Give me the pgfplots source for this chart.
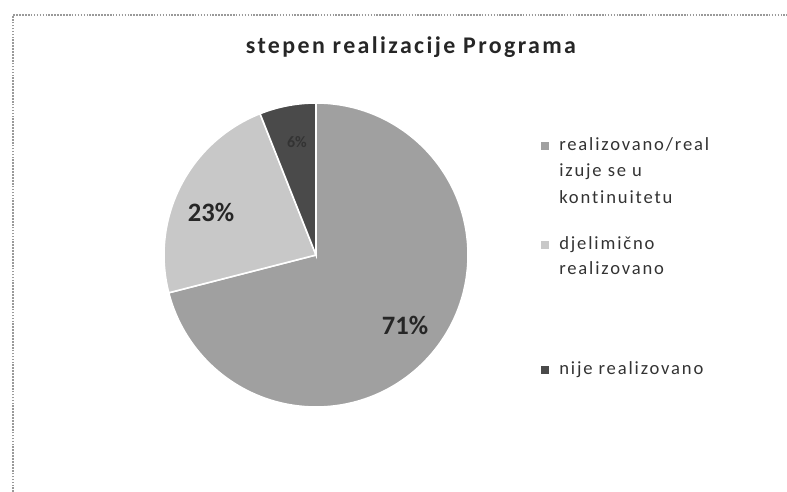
\documentclass[border=0pt]{standalone}
\usepackage{fontspec}
\setmainfont{Carlito}
\usepackage{pgfplots}
\usepackage{pgfplotstable}
\pgfplotsset{compat=1.18}

\definecolor{sliceA}{HTML}{A0A0A0}
\definecolor{sliceB}{HTML}{C8C8C8}
\definecolor{sliceC}{HTML}{4A4A4A}
\definecolor{framegray}{HTML}{9A9A9A}

\pgfplotstableread{
idx value
0 71
1 23
2 6
}\piedata

\newfontfamily\legfont[LetterSpace=10, Ligatures={NoCommon}]{Carlito}
\newfontfamily\titfont[LetterSpace=10, Ligatures={NoCommon}]{Carlito Bold}

\begin{document}
\begin{tikzpicture}
\pgfplotstablegetelem{0}{value}\of\piedata \pgfmathsetmacro\va{\pgfplotsretval}
\pgfplotstablegetelem{1}{value}\of\piedata \pgfmathsetmacro\vb{\pgfplotsretval}
\pgfplotstablegetelem{2}{value}\of\piedata \pgfmathsetmacro\vc{\pgfplotsretval}
\pgfmathsetmacro\aA{90}
\pgfmathsetmacro\aB{\aA-3.6*\va}
\pgfmathsetmacro\aC{\aB-3.6*\vb}
\pgfmathsetmacro\aD{\aC-3.6*\vc}
\begin{axis}[
  width=590.25bp, height=369bp, scale only axis,
  xmin=0, xmax=787, ymin=0, ymax=492,
  hide axis, clip=false,
]
% pie slices (clockwise from 12 o'clock)
\fill[sliceA, draw=white, line width=1.2bp] (axis cs:316,237) -- ++(\aA:114bp) arc[start angle=\aA, end angle=\aB, radius=114bp] -- cycle;
\fill[sliceB, draw=white, line width=1.2bp] (axis cs:316,237) -- ++(\aB:114bp) arc[start angle=\aB, end angle=\aC, radius=114bp] -- cycle;
\fill[sliceC, draw=white, line width=1.2bp] (axis cs:316,237) -- ++(\aC:114bp) arc[start angle=\aC, end angle=\aD, radius=114bp] -- cycle;

% data labels
\node[font=\fontsize{20}{24}\selectfont\bfseries, text=black!85] at (axis cs:405,167) {71\%};
\node[font=\fontsize{20}{24}\selectfont\bfseries, text=black!85] at (axis cs:211,280) {23\%};
\node[font=\fontsize{12}{14}\selectfont\bfseries, text=black!80] at (axis cs:297,350) {6\%};

% title
\node[font=\titfont\fontsize{18}{21}\selectfont, text=black!85] at (axis cs:411,445) {stepen realizacije Programa};

% legend
\fill[sliceA] (axis cs:541,342) rectangle (axis cs:549,350);
\fill[sliceB] (axis cs:541,243) rectangle (axis cs:549,251);
\fill[sliceC] (axis cs:541,118) rectangle (axis cs:549,126);
\begin{scope}[every node/.style={anchor=base west, inner sep=0pt, font=\legfont\fontsize{14}{19}\selectfont, text=black!80}]
\node at (axis cs:559,341) {realizovano/real};
\node at (axis cs:559,315) {izuje se u};
\node at (axis cs:559,288) {kontinuitetu};
\node at (axis cs:559,242) {djelimično};
\node at (axis cs:559,217) {realizovano};
\node at (axis cs:559,117) {nije realizovano};
\end{scope}

% frame
\draw[framegray, line width=1.2bp, densely dotted] (axis cs:13,0) -- (axis cs:13,477) -- (axis cs:787,477);
\end{axis}
\pgfresetboundingbox
\useasboundingbox (current axis.south west) rectangle (current axis.north east);
\end{tikzpicture}
\end{document}
